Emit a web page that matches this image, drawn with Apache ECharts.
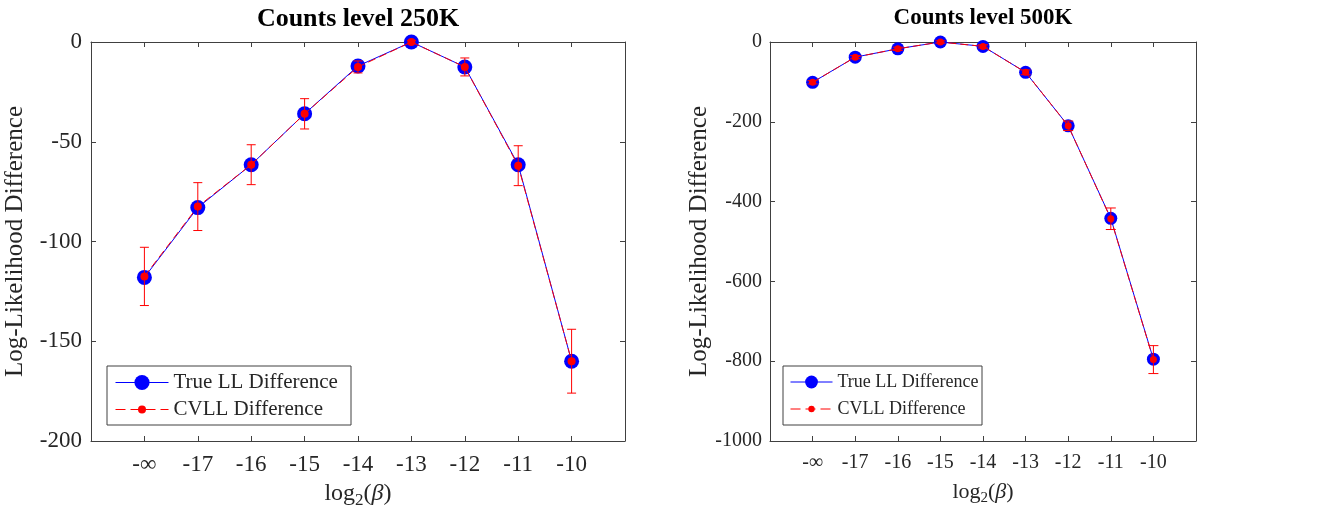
<!DOCTYPE html>
<html>
<head>
<meta charset="utf-8">
<script src="https://cdn.jsdelivr.net/npm/echarts@6/dist/echarts.min.js"></script>
<style>
html,body{margin:0;padding:0;background:#fff;}
#chart{width:1324px;height:518px;}
</style>
</head>
<body>
<div id="chart"></div>
<script>
// ---- data ----
const xLabels = ['-∞', '-17', '-16', '-15', '-14', '-13', '-12', '-11', '-10'];
const yTicks250 = [0, -50, -100, -150, -200];
const yTicks500 = [0, -200, -400, -600, -800, -1000];
const trueLL250 = [-118, -83, -61.5, -36, -12, 0, -12.5, -61.5, -160];
const cvll250 = [-117.5, -82.5, -61.5, -36, -12.5, 0, -12.5, -62, -160];
const err250 = [14.6, 12, 10, 7.6, 3, 0.8, 4.5, 10, 16];
const trueLL500 = [-101, -38, -17, 0, -11, -76, -210, -442, -795];
const cvll500 = [-101, -38, -17, 0, -11, -76, -210, -443, -796];
const err500 = [4, 4, 4, 3, 4, 6, 12, 27, 35];

const FONT = 'Liberation Serif';
const TXT = '#262626';
const AX = '#404040';
const BLUE = '#0000ff';
const RED = '#ff0000';

function pts(arr) { return arr.map((v, i) => [i + 1, v]); }
function errPts(vals, errs) { return vals.map((v, i) => [i + 1, v, errs[i]]); }

function errRender(hw) {
  return function (params, api) {
    const x = api.value(0), y = api.value(1), e = api.value(2);
    const t = api.coord([x, y + e]);
    const b = api.coord([x, y - e]);
    const st = { stroke: RED, lineWidth: 1 };
    return {
      type: 'group',
      children: [
        { type: 'line', shape: { x1: t[0], y1: t[1], x2: b[0], y2: b[1] }, style: st },
        { type: 'line', shape: { x1: t[0] - hw, y1: t[1], x2: t[0] + hw, y2: t[1] }, style: st },
        { type: 'line', shape: { x1: b[0] - hw, y1: b[1], x2: b[0] + hw, y2: b[1] }, style: st }
      ]
    };
  };
}

function xAxes(grid, fs, margin, nameGap, nameSize) {
  const common = {
    type: 'value', gridIndex: grid, min: 0, max: 10, interval: 1,
    splitLine: { show: false },
    axisLine: { onZero: false, lineStyle: { color: AX, width: 1 } },
    axisTick: { inside: true, length: 5, lineStyle: { color: AX } }
  };
  const bottom = Object.assign({}, common, {
    position: 'bottom',
    axisLabel: {
      margin: margin, color: TXT, fontFamily: FONT, fontSize: fs,
      formatter: v => (v >= 1 && v <= xLabels.length) ? xLabels[v - 1] : ''
    },
    name: '{a|log}{s|2}{a|(}{b|β}{a|)}',
    nameLocation: 'middle', nameGap: nameGap,
    nameTextStyle: {
      color: TXT, fontFamily: FONT, fontSize: nameSize,
      rich: {
        a: { color: TXT, fontFamily: FONT, fontSize: nameSize },
        s: { color: TXT, fontFamily: FONT, fontSize: Math.round(nameSize * 0.7), padding: [Math.round(nameSize * 0.55), 0, 0, 0] },
        b: { color: TXT, fontFamily: FONT, fontSize: nameSize, fontStyle: 'italic' }
      }
    }
  });
  const top = Object.assign({}, common, { position: 'top', axisLabel: { show: false } });
  return [bottom, top];
}

function yAxes(grid, min, interval, fs, margin, nameGap) {
  const common = {
    type: 'value', gridIndex: grid, min: min, max: 0, interval: interval,
    splitLine: { show: false },
    axisLine: { onZero: false, lineStyle: { color: AX, width: 1 } },
    axisTick: { inside: true, length: 5, lineStyle: { color: AX } }
  };
  const left = Object.assign({}, common, {
    position: 'left',
    axisLabel: { margin: margin, color: TXT, fontFamily: FONT, fontSize: fs, formatter: v => String(v) },
    name: 'Log-Likelihood Difference', nameLocation: 'middle', nameGap: nameGap,
    nameTextStyle: { color: TXT, fontFamily: FONT, fontSize: 25 }
  });
  const right = Object.assign({}, common, { position: 'right', axisLabel: { show: false } });
  return [left, right];
}

function seriesFor(xi, yi, tr, cv, er, bigSize, smallSize, hw) {
  return [
    {
      name: 'True LL Difference', type: 'line', xAxisIndex: xi, yAxisIndex: yi,
      data: pts(tr), symbol: 'circle', symbolSize: bigSize, z: 2,
      lineStyle: { color: BLUE, width: 1 }, itemStyle: { color: BLUE },
      emphasis: { disabled: true }, animation: false
    },
    {
      name: 'err', type: 'custom', xAxisIndex: xi, yAxisIndex: yi,
      data: errPts(cv, er), renderItem: errRender(hw), z: 3,
      encode: { x: 0, y: 1 }, animation: false, silent: true
    },
    {
      name: 'CVLL Difference', type: 'line', xAxisIndex: xi, yAxisIndex: yi,
      data: pts(cv), symbol: 'circle', symbolSize: smallSize, z: 4,
      lineStyle: { color: RED, width: 1, type: [8, 4] }, itemStyle: { color: RED },
      emphasis: { disabled: true }, animation: false
    }
  ];
}

function legendOne(name, left, top, iw, ih, fs, dashed, color) {
  return {
    data: [name], left: left, top: top, orient: 'vertical', padding: 0,
    itemWidth: iw, itemHeight: ih, selectedMode: false, z: 6,
    lineStyle: { width: 1, color: color, type: dashed ? [10, 5] : 'solid' },
    itemStyle: { color: color },
    textStyle: { color: TXT, fontFamily: FONT, fontSize: fs }
  };
}

const xa0 = xAxes(0, 23, 12, 38, 24);
const xa1 = xAxes(1, 20, 12, 38, 22);
const ya0 = yAxes(0, -200, 50, 23, 9, 63);
const ya1 = yAxes(1, -1000, 200, 20, 8, 58);

const option = {
  animation: false,
  backgroundColor: '#ffffff',
  title: [
    { text: 'Counts level 250K', left: 358, top: 6, textAlign: 'center', padding: 0,
      textStyle: { color: '#000', fontFamily: FONT, fontSize: 26, fontWeight: 'bold' } },
    { text: 'Counts level 500K', left: 983, top: 7, textAlign: 'center', padding: 0,
      textStyle: { color: '#000', fontFamily: FONT, fontSize: 23, fontWeight: 'bold' } }
  ],
  grid: [
    { left: 91, top: 42, width: 534, height: 399 },
    { left: 770, top: 42, width: 426, height: 399 }
  ],
  xAxis: [xa0[0], xa0[1], xa1[0], xa1[1]],
  yAxis: [ya0[0], ya0[1], ya1[0], ya1[1]],
  legend: [
    legendOne('True LL Difference', 115, 372, 53, 19, 21, false, BLUE),
    legendOne('CVLL Difference', 115, 399, 53, 10, 21, true, RED),
    legendOne('True LL Difference', 790, 373, 42, 16, 18, false, BLUE),
    legendOne('CVLL Difference', 790, 400, 42, 8, 18, true, RED)
  ],
  graphic: [
    { type: 'rect', z: 5, shape: { x: 107, y: 366, width: 244, height: 59 },
      style: { fill: '#fff', stroke: AX, lineWidth: 1 } },
    { type: 'rect', z: 5, shape: { x: 783, y: 366, width: 199, height: 59 },
      style: { fill: '#fff', stroke: AX, lineWidth: 1 } }
  ],
  series: [].concat(
    seriesFor(0, 0, trueLL250, cvll250, err250, 15, 8, 4.5),
    seriesFor(2, 2, trueLL500, cvll500, err500, 13, 7, 5)
  )
};

const chart = echarts.init(document.getElementById('chart'), null, { renderer: 'canvas' });
chart.setOption(option);
</script>
</body>
</html>
